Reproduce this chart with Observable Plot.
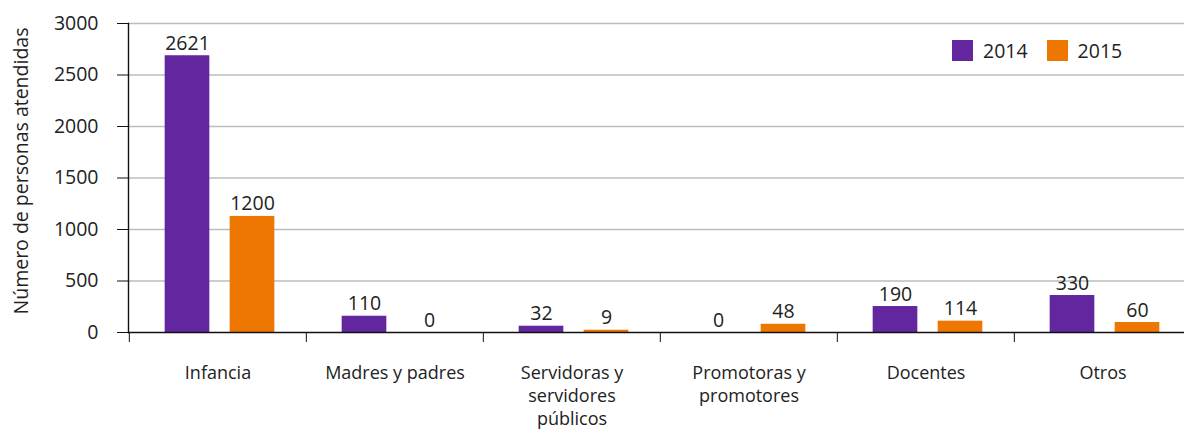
<!DOCTYPE html>
<html>
<head>
<meta charset="utf-8">
<script src="https://cdn.jsdelivr.net/npm/d3@7"></script>
<script src="https://cdn.jsdelivr.net/npm/@observablehq/plot@0.6"></script>
<style>
  html, body { margin: 0; padding: 0; background: #fff; overflow: hidden; }
  #wrap { position: relative; width: 1184px; height: 429px; font-family: "Open Sans", sans-serif; }
  #legend { position: absolute; left: 952px; top: 37px; display: flex; align-items: center; font-size: 19.5px; color: #222; }
  #legend .item { display: flex; align-items: center; margin-right: 19px; }
  #legend .sw { width: 21px; height: 21px; margin-right: 10px; }
</style>
</head>
<body>
<div id="wrap"><div id="legend"></div></div>
<script>
// ---- data ----
const categories = ["Infancia", "Madres y padres", "Servidoras y servidores públicos", "Promotoras y promotores", "Docentes", "Otros"];
const tickLabels = ["Infancia", "Madres y padres", "Servidoras y\nservidores\npúblicos", "Promotoras y\npromotores", "Docentes", "Otros"];
const years = ["2014", "2015"];
const colors = ["#62269e", "#ed7700"];
// bar heights as drawn in the picture
const bars2014 = [2687, 158, 61, 0, 252, 359];
const bars2015 = [1127, 0, 22, 80, 110, 97];
// values printed above the bars
const labels2014 = [2621, 110, 32, 0, 190, 330];
const labels2015 = [1200, 0, 9, 48, 114, 60];
const yTicks = [0, 500, 1000, 1500, 2000, 2500, 3000];
const yTitle = "Número de personas atendidas";

const rows = (bars, labels, year) => categories.map((c, i) => ({category: c, year, bar: bars[i], label: String(labels[i])}));
const d2014 = rows(bars2014, labels2014, years[0]);
const d2015 = rows(bars2015, labels2015, years[1]);

// ---- layout ----
const left = 128, rightEdge = 1192;
const bw = (rightEdge - left) / categories.length;
const barW = 45, gap = 20, shift = 2;
const in14L = bw / 2 - gap / 2 - barW + shift, in14R = bw - in14L - barW;
const in15L = bw / 2 + gap / 2 + shift, in15R = bw - in15L - barW;
const dx14 = in14L + barW / 2 - bw / 2, dx15 = in15L + barW / 2 - bw / 2;
const numSize = 19.5;

const chart = Plot.plot({
  width: 1184,
  height: 429,
  marginLeft: left,
  marginRight: 0,
  marginTop: 23,
  marginBottom: 97,
  style: {fontFamily: "Open Sans, sans-serif", fontSize: "18px", color: "#222", background: "transparent"},
  x: {domain: categories, range: [left, rightEdge], padding: 0},
  y: {domain: [0, 3000]},
  marks: [
    Plot.gridY(yTicks.filter(v => v > 0), {stroke: "#bdbdbd", strokeOpacity: 1, strokeWidth: 1.3}),
    Plot.barY(d2014, {x: "category", y: "bar", fill: colors[0], insetLeft: in14L, insetRight: in14R}),
    Plot.barY(d2015, {x: "category", y: "bar", fill: colors[1], insetLeft: in15L, insetRight: in15R}),
    Plot.text(d2014, {x: "category", y: "bar", text: "label", dx: dx14, dy: -6, lineAnchor: "bottom", fill: "#222", fontSize: numSize}),
    Plot.text(d2015, {x: "category", y: "bar", text: "label", dx: dx15, dy: -6, lineAnchor: "bottom", fill: "#222", fontSize: numSize}),
    Plot.ruleY([0], {stroke: "#111", strokeWidth: 1.4}),
    Plot.frame({anchor: "left", stroke: "#111", strokeWidth: 1.4}),
    Plot.axisY({ticks: yTicks, tickSize: 11, tickPadding: 19, stroke: "#111", tickFormat: d3.format("d"), fontSize: numSize, label: null}),
    Plot.text([yTitle], {frameAnchor: "left", rotate: -90, textAnchor: "middle", lineAnchor: "middle", dx: -107, dy: -7, fontSize: 19.5, fill: "#222"}),
    Plot.axisX({tickSize: 10, tickFormat: () => "", dx: -bw / 2, label: null, stroke: "#111"}),
    Plot.axisX({tickSize: 0, tickPadding: 30, tickFormat: d => tickLabels[categories.indexOf(d)], lineHeight: 1.28, label: null})
  ]
});
const wrap = document.getElementById("wrap");
wrap.insertBefore(chart, wrap.firstChild);

const legend = document.getElementById("legend");
years.forEach((y, i) => {
  const item = document.createElement("div");
  item.className = "item";
  const sw = document.createElement("div");
  sw.className = "sw";
  sw.style.background = colors[i];
  const t = document.createElement("span");
  t.textContent = y;
  item.appendChild(sw);
  item.appendChild(t);
  legend.appendChild(item);
});
</script>
</body>
</html>
